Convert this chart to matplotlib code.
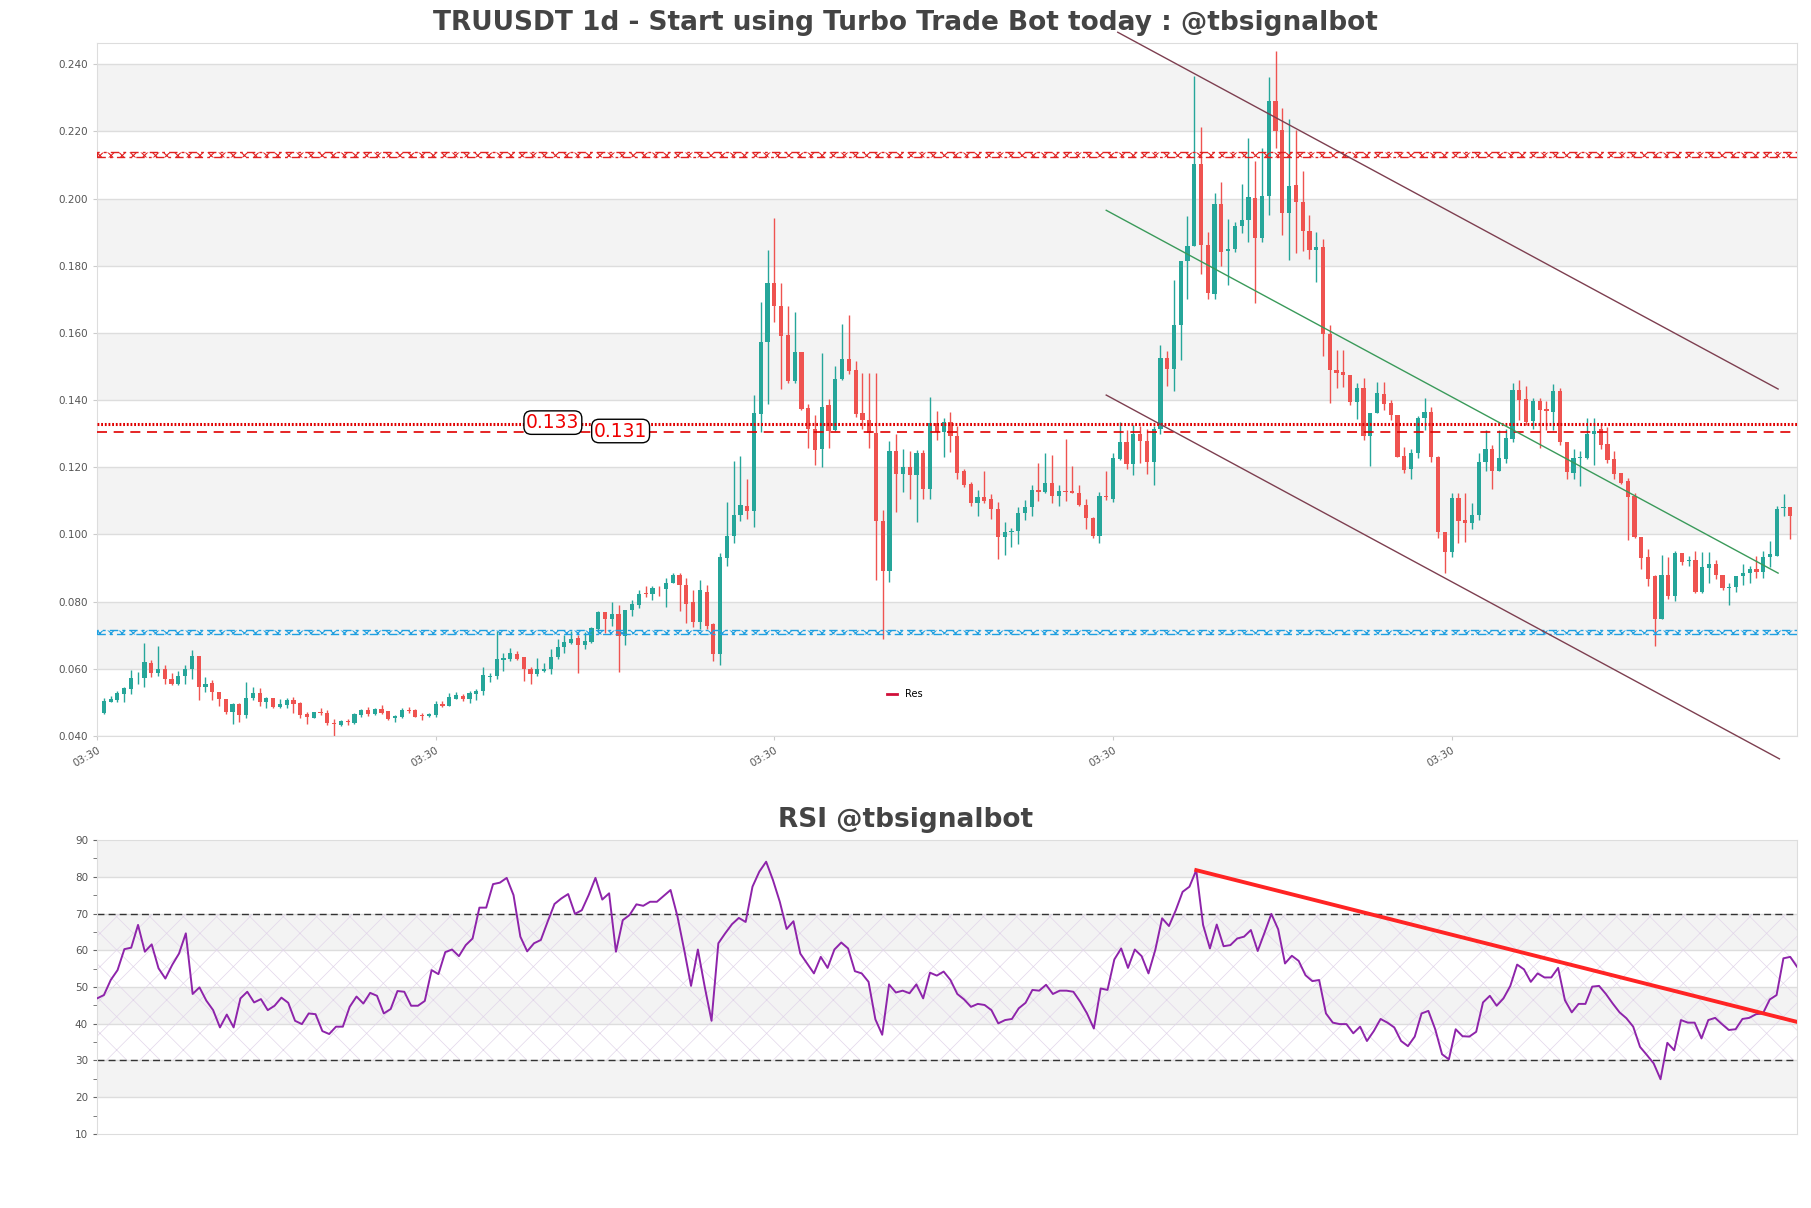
import numpy as np
import matplotlib
matplotlib.use("Agg")
import matplotlib.pyplot as plt
from matplotlib.lines import Line2D

plt.rcParams['font.family'] = ['DejaVu Sans']
plt.rcParams['hatch.linewidth'] = 0.8

# daily candles, TRUUSDT
opens = [
    0.0470, 0.0502, 0.0508, 0.0526, 0.0541, 0.0572, 0.0572, 0.0618, 0.0587, 0.0601,
    0.0571, 0.0556, 0.0579, 0.0599, 0.0637, 0.0545, 0.0559, 0.0532, 0.0511, 0.0471,
    0.0495, 0.0463, 0.0512, 0.0528, 0.0502, 0.0512, 0.0486, 0.0493, 0.0508, 0.0497,
    0.0466, 0.0455, 0.0471, 0.0470, 0.0440, 0.0433, 0.0444, 0.0438, 0.0462, 0.0477,
    0.0465, 0.0481, 0.0474, 0.0453, 0.0456, 0.0477, 0.0477, 0.0461, 0.0459, 0.0462,
    0.0494, 0.0490, 0.0511, 0.0519, 0.0511, 0.0526, 0.0533, 0.0577, 0.0578, 0.0626,
    0.0630, 0.0645, 0.0634, 0.0601, 0.0584, 0.0595, 0.0599, 0.0634, 0.0664, 0.0677,
    0.0691, 0.0671, 0.0681, 0.0719, 0.0770, 0.0749, 0.0764, 0.0699, 0.0775, 0.0790,
    0.0826, 0.0824, 0.0842, 0.0838, 0.0857, 0.0879, 0.0851, 0.0798, 0.0739, 0.0830,
    0.0734, 0.0644, 0.0931, 0.0994, 0.1057, 0.1085, 0.1069, 0.1360, 0.1572, 0.1748,
    0.1681, 0.1594, 0.1456, 0.1542, 0.1376, 0.1313, 0.1253, 0.1384, 0.1310, 0.1463,
    0.1523, 0.1491, 0.1362, 0.1340, 0.1303, 0.1039, 0.0890, 0.1249, 0.1181, 0.1200,
    0.1178, 0.1243, 0.1134, 0.1331, 0.1305, 0.1334, 0.1292, 0.1188, 0.1151, 0.1095,
    0.1111, 0.1107, 0.1077, 0.0992, 0.1006, 0.1011, 0.1064, 0.1082, 0.1133, 0.1126,
    0.1154, 0.1116, 0.1130, 0.1128, 0.1123, 0.1087, 0.1049, 0.0995, 0.1114, 0.1106,
    0.1225, 0.1275, 0.1210, 0.1300, 0.1278, 0.1216, 0.1314, 0.1524, 0.1494, 0.1624,
    0.1814, 0.1859, 0.2103, 0.1862, 0.1716, 0.1984, 0.1845, 0.1849, 0.1919, 0.1935,
    0.2003, 0.1883, 0.2009, 0.2290, 0.2205, 0.1957, 0.2041, 0.1989, 0.1903, 0.1847,
    0.1857, 0.1598, 0.1490, 0.1483, 0.1476, 0.1395, 0.1436, 0.1292, 0.1362, 0.1419,
    0.1392, 0.1357, 0.1235, 0.1194, 0.1243, 0.1346, 0.1365, 0.1231, 0.1007, 0.0947,
    0.1109, 0.1042, 0.1035, 0.1057, 0.1216, 0.1253, 0.1188, 0.1226, 0.1283, 0.1430,
    0.1403, 0.1337, 0.1397, 0.1373, 0.1365, 0.1427, 0.1276, 0.1184, 0.1228, 0.1228,
    0.1299, 0.1313, 0.1268, 0.1226, 0.1184, 0.1159, 0.1116, 0.0992, 0.0932, 0.0875,
    0.0748, 0.0880, 0.0818, 0.0945, 0.0920, 0.0925, 0.0830, 0.0900, 0.0912, 0.0880,
    0.0840, 0.0843, 0.0876, 0.0886, 0.0896, 0.0888, 0.0932, 0.0937, 0.1078, 0.1082,
]
highs = [
    0.0513, 0.0520, 0.0533, 0.0546, 0.0597, 0.0590, 0.0678, 0.0625, 0.0668, 0.0612,
    0.0588, 0.0594, 0.0612, 0.0655, 0.0637, 0.0577, 0.0566, 0.0532, 0.0511, 0.0497,
    0.0497, 0.0561, 0.0546, 0.0542, 0.0516, 0.0512, 0.0510, 0.0512, 0.0515, 0.0501,
    0.0472, 0.0472, 0.0482, 0.0477, 0.0451, 0.0447, 0.0452, 0.0470, 0.0480, 0.0485,
    0.0483, 0.0492, 0.0476, 0.0462, 0.0482, 0.0487, 0.0479, 0.0470, 0.0468, 0.0505,
    0.0505, 0.0528, 0.0531, 0.0525, 0.0533, 0.0539, 0.0605, 0.0587, 0.0712, 0.0648,
    0.0663, 0.0654, 0.0636, 0.0606, 0.0632, 0.0618, 0.0658, 0.0689, 0.0700, 0.0714,
    0.0702, 0.0710, 0.0724, 0.0772, 0.0770, 0.0800, 0.0790, 0.0775, 0.0806, 0.0836,
    0.0848, 0.0848, 0.0848, 0.0871, 0.0884, 0.0884, 0.0871, 0.0836, 0.0864, 0.0849,
    0.0737, 0.0945, 0.1097, 0.1220, 0.1234, 0.1166, 0.1415, 0.1693, 0.1848, 0.1943,
    0.1750, 0.1680, 0.1661, 0.1542, 0.1388, 0.1355, 0.1541, 0.1403, 0.1502, 0.1627,
    0.1654, 0.1517, 0.1480, 0.1480, 0.1480, 0.1073, 0.1278, 0.1300, 0.1255, 0.1247,
    0.1250, 0.1250, 0.1410, 0.1369, 0.1348, 0.1366, 0.1322, 0.1196, 0.1155, 0.1131,
    0.1189, 0.1121, 0.1097, 0.1038, 0.1018, 0.1082, 0.1102, 0.1148, 0.1213, 0.1244,
    0.1238, 0.1148, 0.1285, 0.1205, 0.1148, 0.1106, 0.1052, 0.1125, 0.1190, 0.1244,
    0.1334, 0.1310, 0.1326, 0.1322, 0.1314, 0.1322, 0.1565, 0.1545, 0.1757, 0.1814,
    0.1948, 0.2366, 0.2214, 0.1900, 0.2016, 0.2050, 0.1940, 0.1930, 0.2044, 0.2180,
    0.2113, 0.2150, 0.2363, 0.2440, 0.2270, 0.2236, 0.2205, 0.2081, 0.1951, 0.1899,
    0.1881, 0.1624, 0.1550, 0.1550, 0.1476, 0.1452, 0.1466, 0.1362, 0.1453, 0.1453,
    0.1401, 0.1357, 0.1260, 0.1253, 0.1353, 0.1407, 0.1378, 0.1235, 0.1007, 0.1124,
    0.1124, 0.1124, 0.1094, 0.1244, 0.1310, 0.1265, 0.1310, 0.1315, 0.1450, 0.1459,
    0.1442, 0.1406, 0.1406, 0.1397, 0.1448, 0.1437, 0.1276, 0.1253, 0.1247, 0.1348,
    0.1348, 0.1325, 0.1320, 0.1248, 0.1184, 0.1169, 0.1123, 0.0992, 0.0958, 0.0880,
    0.0938, 0.0932, 0.0952, 0.0945, 0.0936, 0.0952, 0.0948, 0.0948, 0.0925, 0.0880,
    0.0855, 0.0877, 0.0912, 0.0905, 0.0935, 0.0950, 0.0980, 0.1085, 0.1120, 0.1082,
]
lows = [
    0.0466, 0.0500, 0.0502, 0.0500, 0.0526, 0.0555, 0.0545, 0.0575, 0.0580, 0.0555,
    0.0553, 0.0552, 0.0555, 0.0571, 0.0508, 0.0531, 0.0508, 0.0488, 0.0466, 0.0437,
    0.0443, 0.0455, 0.0508, 0.0488, 0.0483, 0.0482, 0.0484, 0.0482, 0.0470, 0.0454,
    0.0437, 0.0453, 0.0462, 0.0432, 0.0400, 0.0429, 0.0433, 0.0436, 0.0458, 0.0460,
    0.0463, 0.0467, 0.0448, 0.0443, 0.0454, 0.0470, 0.0457, 0.0448, 0.0457, 0.0458,
    0.0485, 0.0488, 0.0509, 0.0505, 0.0499, 0.0508, 0.0523, 0.0562, 0.0570, 0.0593,
    0.0622, 0.0626, 0.0563, 0.0556, 0.0578, 0.0590, 0.0585, 0.0630, 0.0647, 0.0675,
    0.0587, 0.0660, 0.0678, 0.0707, 0.0708, 0.0728, 0.0590, 0.0672, 0.0758, 0.0782,
    0.0813, 0.0804, 0.0817, 0.0784, 0.0857, 0.0771, 0.0735, 0.0725, 0.0720, 0.0718,
    0.0624, 0.0612, 0.0905, 0.0975, 0.1040, 0.1047, 0.1022, 0.1305, 0.1389, 0.1632,
    0.1432, 0.1452, 0.1452, 0.1372, 0.1258, 0.1208, 0.1200, 0.1256, 0.1308, 0.1460,
    0.1478, 0.1350, 0.1314, 0.1258, 0.0864, 0.0690, 0.0860, 0.1066, 0.1126, 0.1107,
    0.1036, 0.1107, 0.1107, 0.1280, 0.1230, 0.1245, 0.1166, 0.1142, 0.1085, 0.1056,
    0.1094, 0.1045, 0.0926, 0.0938, 0.0964, 0.0973, 0.1044, 0.1056, 0.1100, 0.1122,
    0.1094, 0.1086, 0.1100, 0.1122, 0.1086, 0.1015, 0.0990, 0.0975, 0.1102, 0.1098,
    0.1222, 0.1194, 0.1177, 0.1213, 0.1181, 0.1148, 0.1300, 0.1443, 0.1427, 0.1520,
    0.1700, 0.1859, 0.1775, 0.1700, 0.1700, 0.1800, 0.1743, 0.1840, 0.1897, 0.1870,
    0.1690, 0.1870, 0.1950, 0.2151, 0.1890, 0.1817, 0.1837, 0.1843, 0.1819, 0.1751,
    0.1531, 0.1391, 0.1435, 0.1440, 0.1384, 0.1343, 0.1280, 0.1205, 0.1362, 0.1371,
    0.1340, 0.1230, 0.1183, 0.1165, 0.1228, 0.1312, 0.1216, 0.0990, 0.0885, 0.0934,
    0.0975, 0.0978, 0.1016, 0.1044, 0.1188, 0.1135, 0.1188, 0.1213, 0.1275, 0.1341,
    0.1325, 0.1315, 0.1258, 0.1310, 0.1310, 0.1266, 0.1164, 0.1166, 0.1144, 0.1226,
    0.1208, 0.1253, 0.1213, 0.1164, 0.1149, 0.0984, 0.0990, 0.0896, 0.0846, 0.0668,
    0.0748, 0.0808, 0.0802, 0.0908, 0.0905, 0.0825, 0.0825, 0.0857, 0.0868, 0.0834,
    0.0790, 0.0829, 0.0850, 0.0855, 0.0870, 0.0870, 0.0903, 0.0935, 0.1055, 0.0987,
]
closes = [
    0.0503, 0.0510, 0.0528, 0.0544, 0.0573, 0.0574, 0.0619, 0.0587, 0.0601, 0.0569,
    0.0555, 0.0579, 0.0601, 0.0637, 0.0545, 0.0556, 0.0530, 0.0509, 0.0471, 0.0495,
    0.0463, 0.0514, 0.0528, 0.0502, 0.0513, 0.0487, 0.0495, 0.0508, 0.0496, 0.0463,
    0.0457, 0.0471, 0.0469, 0.0438, 0.0437, 0.0444, 0.0442, 0.0465, 0.0477, 0.0465,
    0.0481, 0.0470, 0.0452, 0.0460, 0.0477, 0.0474, 0.0458, 0.0460, 0.0466, 0.0494,
    0.0490, 0.0517, 0.0521, 0.0509, 0.0528, 0.0535, 0.0581, 0.0579, 0.0628, 0.0632,
    0.0647, 0.0630, 0.0599, 0.0584, 0.0599, 0.0601, 0.0634, 0.0666, 0.0679, 0.0689,
    0.0671, 0.0683, 0.0721, 0.0770, 0.0749, 0.0764, 0.0699, 0.0775, 0.0792, 0.0824,
    0.0824, 0.0842, 0.0840, 0.0857, 0.0879, 0.0851, 0.0792, 0.0739, 0.0835, 0.0729,
    0.0644, 0.0933, 0.0996, 0.1059, 0.1087, 0.1069, 0.1362, 0.1572, 0.1748, 0.1681,
    0.1592, 0.1456, 0.1542, 0.1374, 0.1315, 0.1250, 0.1379, 0.1308, 0.1463, 0.1523,
    0.1488, 0.1359, 0.1342, 0.1303, 0.1039, 0.0890, 0.1249, 0.1181, 0.1200, 0.1178,
    0.1243, 0.1134, 0.1331, 0.1305, 0.1334, 0.1292, 0.1184, 0.1148, 0.1095, 0.1111,
    0.1101, 0.1075, 0.0992, 0.1008, 0.1011, 0.1064, 0.1082, 0.1133, 0.1126, 0.1154,
    0.1116, 0.1130, 0.1127, 0.1123, 0.1087, 0.1049, 0.0995, 0.1114, 0.1111, 0.1227,
    0.1275, 0.1210, 0.1298, 0.1278, 0.1216, 0.1314, 0.1524, 0.1494, 0.1624, 0.1814,
    0.1859, 0.2103, 0.1862, 0.1719, 0.1984, 0.1840, 0.1851, 0.1919, 0.1935, 0.2005,
    0.1883, 0.2009, 0.2290, 0.2200, 0.1957, 0.2038, 0.1989, 0.1903, 0.1847, 0.1857,
    0.1598, 0.1490, 0.1481, 0.1474, 0.1395, 0.1436, 0.1292, 0.1362, 0.1422, 0.1389,
    0.1357, 0.1232, 0.1191, 0.1243, 0.1346, 0.1365, 0.1231, 0.1007, 0.0949, 0.1109,
    0.1039, 0.1035, 0.1059, 0.1216, 0.1253, 0.1188, 0.1228, 0.1286, 0.1430, 0.1400,
    0.1335, 0.1397, 0.1370, 0.1367, 0.1427, 0.1276, 0.1186, 0.1228, 0.1231, 0.1300,
    0.1308, 0.1266, 0.1223, 0.1181, 0.1154, 0.1113, 0.0992, 0.0930, 0.0867, 0.0748,
    0.0880, 0.0818, 0.0945, 0.0919, 0.0923, 0.0830, 0.0904, 0.0912, 0.0878, 0.0840,
    0.0845, 0.0876, 0.0886, 0.0896, 0.0888, 0.0933, 0.0942, 0.1077, 0.1082, 0.1055,
]

rsi = [
    46.9, 47.8, 51.9, 54.6, 60.3, 60.7, 66.9, 59.6, 61.6, 55.1,
    52.3, 56.0, 59.1, 64.6, 48.1, 49.9, 46.3, 43.7, 39.0, 42.5,
    39.0, 46.9, 48.7, 45.8, 46.7, 43.7, 44.9, 47.1, 45.7, 40.8,
    39.9, 42.8, 42.6, 38.0, 37.2, 39.2, 39.2, 44.6, 47.4, 45.5,
    48.4, 47.6, 42.8, 44.0, 48.9, 48.7, 44.9, 44.9, 46.2, 54.6,
    53.5, 59.5, 60.2, 58.4, 61.4, 63.2, 71.6, 71.6, 78.0, 78.4,
    79.7, 75.0, 63.7, 59.7, 61.9, 62.8, 67.8, 72.6, 74.1, 75.3,
    69.9, 70.9, 75.0, 79.7, 73.8, 75.5, 59.6, 68.2, 69.6, 72.5,
    72.1, 73.2, 73.2, 74.8, 76.4, 69.3, 60.1, 50.3, 60.2, 50.1,
    40.8, 61.9, 64.6, 67.1, 68.8, 67.7, 77.3, 81.4, 84.1, 79.1,
    73.2, 65.8, 67.9, 59.1, 56.4, 53.7, 58.2, 55.2, 60.2, 62.1,
    60.5, 54.3, 53.7, 51.4, 41.2, 37.0, 50.7, 48.5, 49.0, 48.3,
    50.7, 46.9, 53.9, 53.1, 54.2, 51.9, 48.1, 46.6, 44.6, 45.4,
    45.1, 43.7, 40.1, 41.0, 41.3, 44.2, 45.7, 49.2, 49.0, 50.6,
    48.1, 49.0, 49.0, 48.7, 46.0, 42.8, 38.7, 49.6, 49.2, 57.5,
    60.5, 55.2, 60.2, 58.4, 53.7, 60.1, 68.7, 66.6, 70.9, 75.9,
    77.3, 81.8, 66.9, 60.5, 67.0, 61.1, 61.4, 63.2, 63.7, 65.5,
    59.8, 64.8, 69.9, 65.7, 56.4, 58.5, 57.1, 53.2, 51.6, 51.9,
    42.8, 40.3, 39.9, 39.9, 37.4, 39.2, 35.3, 38.0, 41.3, 40.3,
    39.0, 35.3, 33.9, 36.5, 42.8, 43.5, 38.5, 31.7, 30.3, 38.5,
    36.6, 36.5, 37.8, 45.8, 47.6, 44.9, 46.9, 50.3, 56.1, 54.8,
    51.4, 53.7, 52.6, 52.6, 55.2, 46.4, 43.1, 45.4, 45.4, 50.1,
    50.3, 48.1, 45.5, 43.1, 41.5, 39.2, 33.7, 31.5, 29.2, 24.9,
    34.8, 32.8, 41.0, 40.3, 40.3, 36.0, 41.0, 41.6, 39.9, 38.3,
    38.5, 41.3, 41.6, 42.6, 42.8, 46.6, 47.8, 57.8, 58.2, 55.5,
]

res_zone = (0.2125, 0.2140)
sup_zone = (0.0704, 0.0716)
level_133 = 0.133
level_131 = 0.1305
# channel lines: (x0, y0, x1, y1) in candle index / price
upper_chan = (150.7, 0.2495, 248.2, 0.1433)
lower_chan = (149.0, 0.1415, 248.4, 0.0332)
mid_line = (149.0, 0.1965, 248.2, 0.0885)
rsi_trend = (162, 81.8, 250, 40.5)
tick_pos = [0, 50, 100, 150, 200]
tick_lab = ['03:30'] * 5

GREEN = '#26a69a'
RED = '#ef5350'
BAND = '#f3f3f3'
GRID = '#dddddd'
TXT = '#555555'

fig = plt.figure(figsize=(18.11, 12.08), dpi=100)
ax = fig.add_axes([0.0536, 0.3907, 0.9387, 0.5737])
ax2 = fig.add_axes([0.0536, 0.0613, 0.9387, 0.2433])

fig.text(0.5, 0.981, 'TRUUSDT 1d - Start using Turbo Trade Bot today : @tbsignalbot',
         ha='center', va='center', fontsize=19, fontweight='bold', color='#444444')
fig.text(0.5, 0.321, 'RSI @tbsignalbot', ha='center', va='center',
         fontsize=19, fontweight='bold', color='#444444')

# ---- price panel
o = np.array(opens); h = np.array(highs); l = np.array(lows); c = np.array(closes)
x = np.arange(1, len(o) + 1)
up = c >= o
cols = np.where(up, GREEN, RED)

for y0 in np.arange(0.06, 0.25, 0.04):
    ax.axhspan(y0, y0 + 0.02, color=BAND, zorder=0, lw=0)
for y0 in np.arange(0.04, 0.241, 0.02):
    ax.axhline(y0, color=GRID, lw=1, zorder=0.5)

ax.vlines(x, l, h, colors=cols, lw=1, zorder=2)
body = np.maximum(np.abs(c - o), 0.0002)
ax.bar(x, body, bottom=np.minimum(o, c), width=0.62, color=cols, lw=0, zorder=3)

ax.axhspan(*res_zone, facecolor='none', edgecolor='#e02020', hatch='xxx',
           lw=1, ls=(0, (6, 3, 2, 3)), zorder=4)
ax.axhspan(*sup_zone, facecolor='none', edgecolor='#1e9fe0', hatch='xxx',
           lw=1, ls=(0, (6, 3, 2, 3)), zorder=4)
ax.axhline(level_133, color='#e00000', lw=2.2, ls=(0, (0.6, 0.6)), zorder=4)
ax.axhline(level_131, color='#e00000', lw=1.2, ls=(0, (6, 4)), zorder=4)
box = dict(boxstyle='round,pad=0.12,rounding_size=0.4', fc='white', ec='black', lw=1)
ax.text(67.3, 0.1333, '0.133', color='#ee0000', fontsize=13.5, ha='center', va='center',
        zorder=6, bbox=box)
ax.text(77.3, 0.1308, '0.131', color='#ee0000', fontsize=13.5, ha='center', va='center',
        zorder=6, bbox=box)

for (x0, y0, x1, y1), col in [(upper_chan, '#7d3f50'), (lower_chan, '#7d3f50'), (mid_line, '#3a9a5a')]:
    ax.plot([x0, x1], [y0, y1], color=col, lw=1, zorder=5, clip_on=False)

ax.set_xlim(0, 251)
ax.set_ylim(0.04, 0.2463)
ax.set_yticks(np.arange(0.04, 0.241, 0.02))
ax.yaxis.set_major_formatter(matplotlib.ticker.FormatStrFormatter('%.3f'))
ax.set_xticks(tick_pos)
ax.set_xticklabels(tick_lab, rotation=30, ha='right', rotation_mode='anchor')
ax.tick_params(axis='both', labelsize=7.5, colors=TXT, length=3, color='#cccccc')
for s in ax.spines.values():
    s.set_color('#dddddd')

ax.legend(handles=[Line2D([], [], color='#d0103a', lw=2, label='Res')],
          loc='center', bbox_to_anchor=(0.475, 0.06), frameon=False,
          fontsize=7, handlelength=1.0)

# ---- RSI panel
for y0 in [20, 40, 60, 80]:
    ax2.axhspan(y0, y0 + 10, color=BAND, zorder=0, lw=0)
for y0 in range(20, 90, 10):
    ax2.axhline(y0, color=GRID, lw=1, zorder=0.5)
plt.rcParams['hatch.linewidth'] = 0.5
ax2.fill_between([1, 250], 30, 70, facecolor='none', edgecolor='#e2d6ea',
                 hatch='x', lw=0, zorder=1)
ax2.axhline(30, color='#333333', lw=1, ls=(0, (5, 3)), zorder=2)
ax2.axhline(70, color='#333333', lw=1, ls=(0, (5, 3)), zorder=2)
xr = np.arange(1, len(rsi) + 1)
ax2.plot(xr, rsi, color='#8e24aa', lw=1.4, zorder=3)
ax2.plot([rsi_trend[0], rsi_trend[2]], [rsi_trend[1], rsi_trend[3]],
         color='#ff2424', lw=2.8, zorder=4)
ax2.set_xlim(1, 250)
ax2.set_ylim(10, 90)
ax2.set_yticks(range(10, 91, 10))
ax2.set_yticks(range(15, 90, 10), minor=True)
ax2.set_xticks([])
ax2.tick_params(axis='y', which='both', labelsize=7.5, colors=TXT, color='#666666', length=3)
for s in ax2.spines.values():
    s.set_color('#dddddd')

fig.savefig('out.png', dpi=100)
